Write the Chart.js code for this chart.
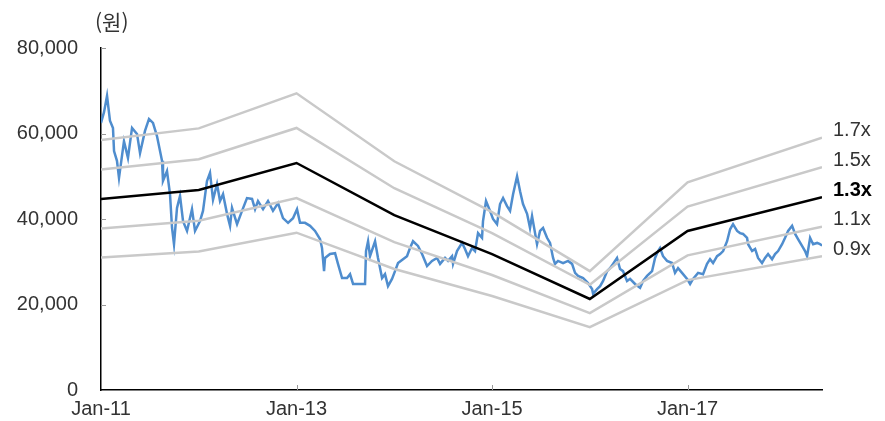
<!DOCTYPE html>
<html lang="ko">
<head>
<meta charset="UTF-8">
<title>P/B Band</title>
<script src="https://cdn.jsdelivr.net/npm/chart.js"></script>
<style>
  html, body { margin: 0; padding: 0; background: #fff; overflow: hidden; }
  #wrap { position: relative; width: 885px; height: 421px; overflow: hidden; }
  .unit { position: absolute; left: 95px; top: 6px; font: 21px 'Noto Sans CJK KR', sans-serif; color: #333; }
</style>
</head>
<body>
<div id="wrap">
  <canvas id="chart" width="885" height="428"></canvas>
  <div class="unit">(원)</div>
</div>
<script>
// x values are months since Jan-11
const xTicks = [0, 24, 48, 72];
const xTickLabels = ['Jan-11', 'Jan-13', 'Jan-15', 'Jan-17'];
const yTicks = [0, 20000, 40000, 60000, 80000];

const bandMonths = [0, 12, 24, 36, 48, 60, 72, 88.5];
const band17 = [58500, 61200, 69400, 53500, 41600, 27800, 48600, 59000];
const band15 = [51600, 54000, 61300, 47200, 36700, 24600, 42900, 52100];
const band13 = [44700, 46800, 53100, 40900, 31800, 21300, 37200, 45100];
const band11 = [37800, 39600, 44900, 34600, 26900, 18000, 31500, 38200];
const band09 = [31000, 32400, 36800, 28300, 22000, 14700, 25700, 31300];

const priceMonths = [
  0, 0.37, 0.74, 1.10, 1.47, 1.60, 1.96, 2.21, 2.82, 3.31, 3.81, 4.42, 4.79, 5.40, 5.89, 6.38, 6.87,
  7.49, 7.61, 8.10, 8.47, 8.72, 8.96, 9.33, 9.70, 10.07, 10.56, 11.17, 11.54, 12.15, 12.52, 13.01,
  13.38, 13.75, 14.24, 14.61, 14.98, 15.47, 15.84, 16.08, 16.70, 17.31, 17.92, 18.54, 18.91, 19.27,
  19.89, 20.50, 21.11, 21.73, 22.34, 22.96, 23.57, 24.06, 24.43, 25.04, 25.66, 26.27, 26.88, 27.13,
  27.38, 27.50, 28.11, 28.73, 29.09, 29.59, 30.20, 30.57, 30.94, 32.41, 32.53, 32.78, 33.02, 33.64,
  34.00, 34.50, 34.86, 35.23, 35.72, 36.09, 36.46, 37.07, 37.56, 37.93, 38.30, 38.91, 39.41, 40.02,
  40.63, 41.25, 41.62, 42.23, 42.60, 43.09, 43.21, 43.70, 44.32, 44.68, 45.05, 45.54, 45.91, 46.28,
  46.77, 46.89, 47.26, 47.75, 48.12, 48.61, 48.98, 49.35, 49.84, 50.21, 50.58, 51.07, 51.44, 51.80,
  52.30, 52.66, 52.91, 53.28, 53.52, 53.89, 54.26, 54.75, 55.12, 55.49, 55.73, 56.10, 56.72, 57.33,
  57.82, 58.19, 58.56, 59.17, 59.78, 60.28, 60.40, 60.89, 61.26, 61.63, 62.12, 62.48, 62.85, 63.34,
  63.71, 64.08, 64.57, 64.94, 65.55, 66.17, 66.54, 67.03, 67.64, 68.01, 68.38, 68.62, 68.99, 69.48,
  70.10, 70.46, 70.83, 71.32, 71.94, 72.31, 72.67, 73.29, 73.90, 74.39, 74.76, 75.13, 75.62, 75.99,
  76.36, 76.85, 77.22, 77.58, 78.08, 78.44, 78.81, 79.30, 79.43, 79.92, 80.29, 80.65, 81.14, 81.51,
  81.88, 82.37, 82.74, 83.11, 83.60, 83.97, 84.34, 84.83, 85.20, 85.56, 86.05, 86.42, 86.67, 87.04,
  87.41, 87.90, 88.26, 88.51
];
const priceValues = [
  62500, 65000, 68800, 63000, 61300, 55900, 53600, 49600, 58200, 54300, 61300, 59900, 55400, 60600, 63400, 62500, 59400,
  53600, 48900, 51200, 45800, 37900, 34100, 42600, 45400, 39500, 37200, 42300, 37200, 39500, 41900, 48900,
  50800, 44500, 48200, 44200, 45800, 41200, 38400, 42600, 38800, 41900, 44900, 44700, 42300, 44200,
  42300, 44200, 41900, 43700, 40200, 39100, 40200, 42300, 39100, 39100, 38400, 37200, 35300, 33200,
  27800, 30900, 31800, 32000, 29500, 26200, 26200, 27100, 24800, 24800, 32500, 34800, 31300, 34800,
  30900, 26200, 27100, 24300, 26000, 27800, 29700, 30600, 31300, 33200, 34800, 33700, 31800, 29000,
  30200, 30900, 29500, 30900, 30200, 31300, 29500, 32500, 34400, 33000, 31300, 33200, 32500, 36700,
  35600, 39500, 44200, 41900, 40000, 38800, 43500, 44900, 43000, 41900, 45800, 50000, 46500, 43500,
  41200, 37900, 40700, 36700, 34100, 37200, 37900, 35600, 34400, 30900, 29500, 30200, 29700, 30200,
  29500, 27400, 26700, 26200, 25000, 23600, 22500, 23600, 24300, 25500, 27800, 28500, 29500, 30900,
  28300, 27800, 25500, 26000, 24800, 23900, 25500, 26700, 27800, 30900, 32500, 33200, 31300, 30200,
  29700, 27400, 28500, 27400, 26000, 24800, 26000, 27400, 27100, 29500, 30600, 29700, 31300, 31800,
  32500, 34800, 37600, 38800, 37200, 36700, 36500, 35600, 34100, 32500, 33000, 30900, 29700, 30900,
  31800, 30600, 31800, 32500, 34100, 35600, 37200, 38400, 36500, 35300, 33700, 32500, 31300, 35600,
  34100, 34400, 34100, 33800
];

function pts(xs, ys) {
  return xs.map((x, i) => ({ x: x, y: ys[i] }));
}

const fontFamily = '"Liberation Sans", Arial, sans-serif';
const gray = '#c9c9c9';
const bands = [
  { label: '1.7x', data: band17, color: gray, bold: false },
  { label: '1.5x', data: band15, color: gray, bold: false },
  { label: '1.3x', data: band13, color: '#000', bold: true },
  { label: '1.1x', data: band11, color: gray, bold: false },
  { label: '0.9x', data: band09, color: gray, bold: false }
];

const datasets = bands.map(b => ({
  label: b.label,
  data: pts(bandMonths, b.data),
  borderColor: b.color,
  borderWidth: 2.5,
  pointRadius: 0,
  tension: 0,
  order: 0
}));
datasets.push({
  label: 'price',
  data: pts(priceMonths, priceValues),
  borderColor: '#4f8dce',
  borderWidth: 2.5,
  pointRadius: 0,
  tension: 0,
  order: 10
});

// small inward tick marks + right side band labels
const extras = {
  id: 'extras',
  afterDatasetsDraw(chart) {
    const ctx = chart.ctx;
    const xs = chart.scales.x, ys = chart.scales.y;
    const area = chart.chartArea;
    ctx.save();
    ctx.strokeStyle = '#999';
    ctx.lineWidth = 1;
    yTicks.slice(1).forEach(v => {
      const y = Math.round(ys.getPixelForValue(v)) + 0.5;
      ctx.beginPath(); ctx.moveTo(area.left, y); ctx.lineTo(area.left + 5, y); ctx.stroke();
    });
    xTicks.slice(1).forEach(v => {
      const x = Math.round(xs.getPixelForValue(v)) + 0.5;
      ctx.beginPath(); ctx.moveTo(x, area.bottom); ctx.lineTo(x, area.bottom - 5); ctx.stroke();
    });
    ctx.textBaseline = 'middle';
    ctx.textAlign = 'left';
    bands.forEach(b => {
      const y = ys.getPixelForValue(b.data[b.data.length - 1]) - 7;
      ctx.fillStyle = b.bold ? '#000' : '#333';
      ctx.font = (b.bold ? 'bold ' : '') + '20px ' + fontFamily;
      ctx.fillText(b.label, area.right + 11, y);
    });
    ctx.restore();
  }
};

new Chart(document.getElementById('chart'), {
  type: 'line',
  data: { datasets: datasets },
  options: {
    responsive: false,
    animation: false,
    layout: { padding: { top: 48, right: 63, left: 0, bottom: 0 } },
    plugins: { legend: { display: false }, tooltip: { enabled: false } },
    scales: {
      x: {
        type: 'linear',
        min: 0,
        max: 88.5,
        afterBuildTicks: s => { s.ticks = xTicks.map(v => ({ value: v })); },
        grid: { display: false, drawTicks: false },
        border: { display: true, color: '#000', width: 1.5 },
        ticks: {
          padding: 9,
          color: '#333',
          maxRotation: 0,
          autoSkip: false,
          font: { size: 20, family: fontFamily, lineHeight: 1 },
          callback: v => xTickLabels[xTicks.indexOf(v)]
        }
      },
      y: {
        min: 0,
        max: 80000,
        afterBuildTicks: s => { s.ticks = yTicks.map(v => ({ value: v })); },
        afterFit: s => { s.width = 101; },
        grid: { display: false, drawTicks: false },
        border: { display: true, color: '#000', width: 1.5 },
        ticks: {
          padding: 23,
          color: '#333',
          font: { size: 20, family: fontFamily },
          callback: v => v.toLocaleString('en-US')
        }
      }
    }
  },
  plugins: [extras]
});
</script>
</body>
</html>
